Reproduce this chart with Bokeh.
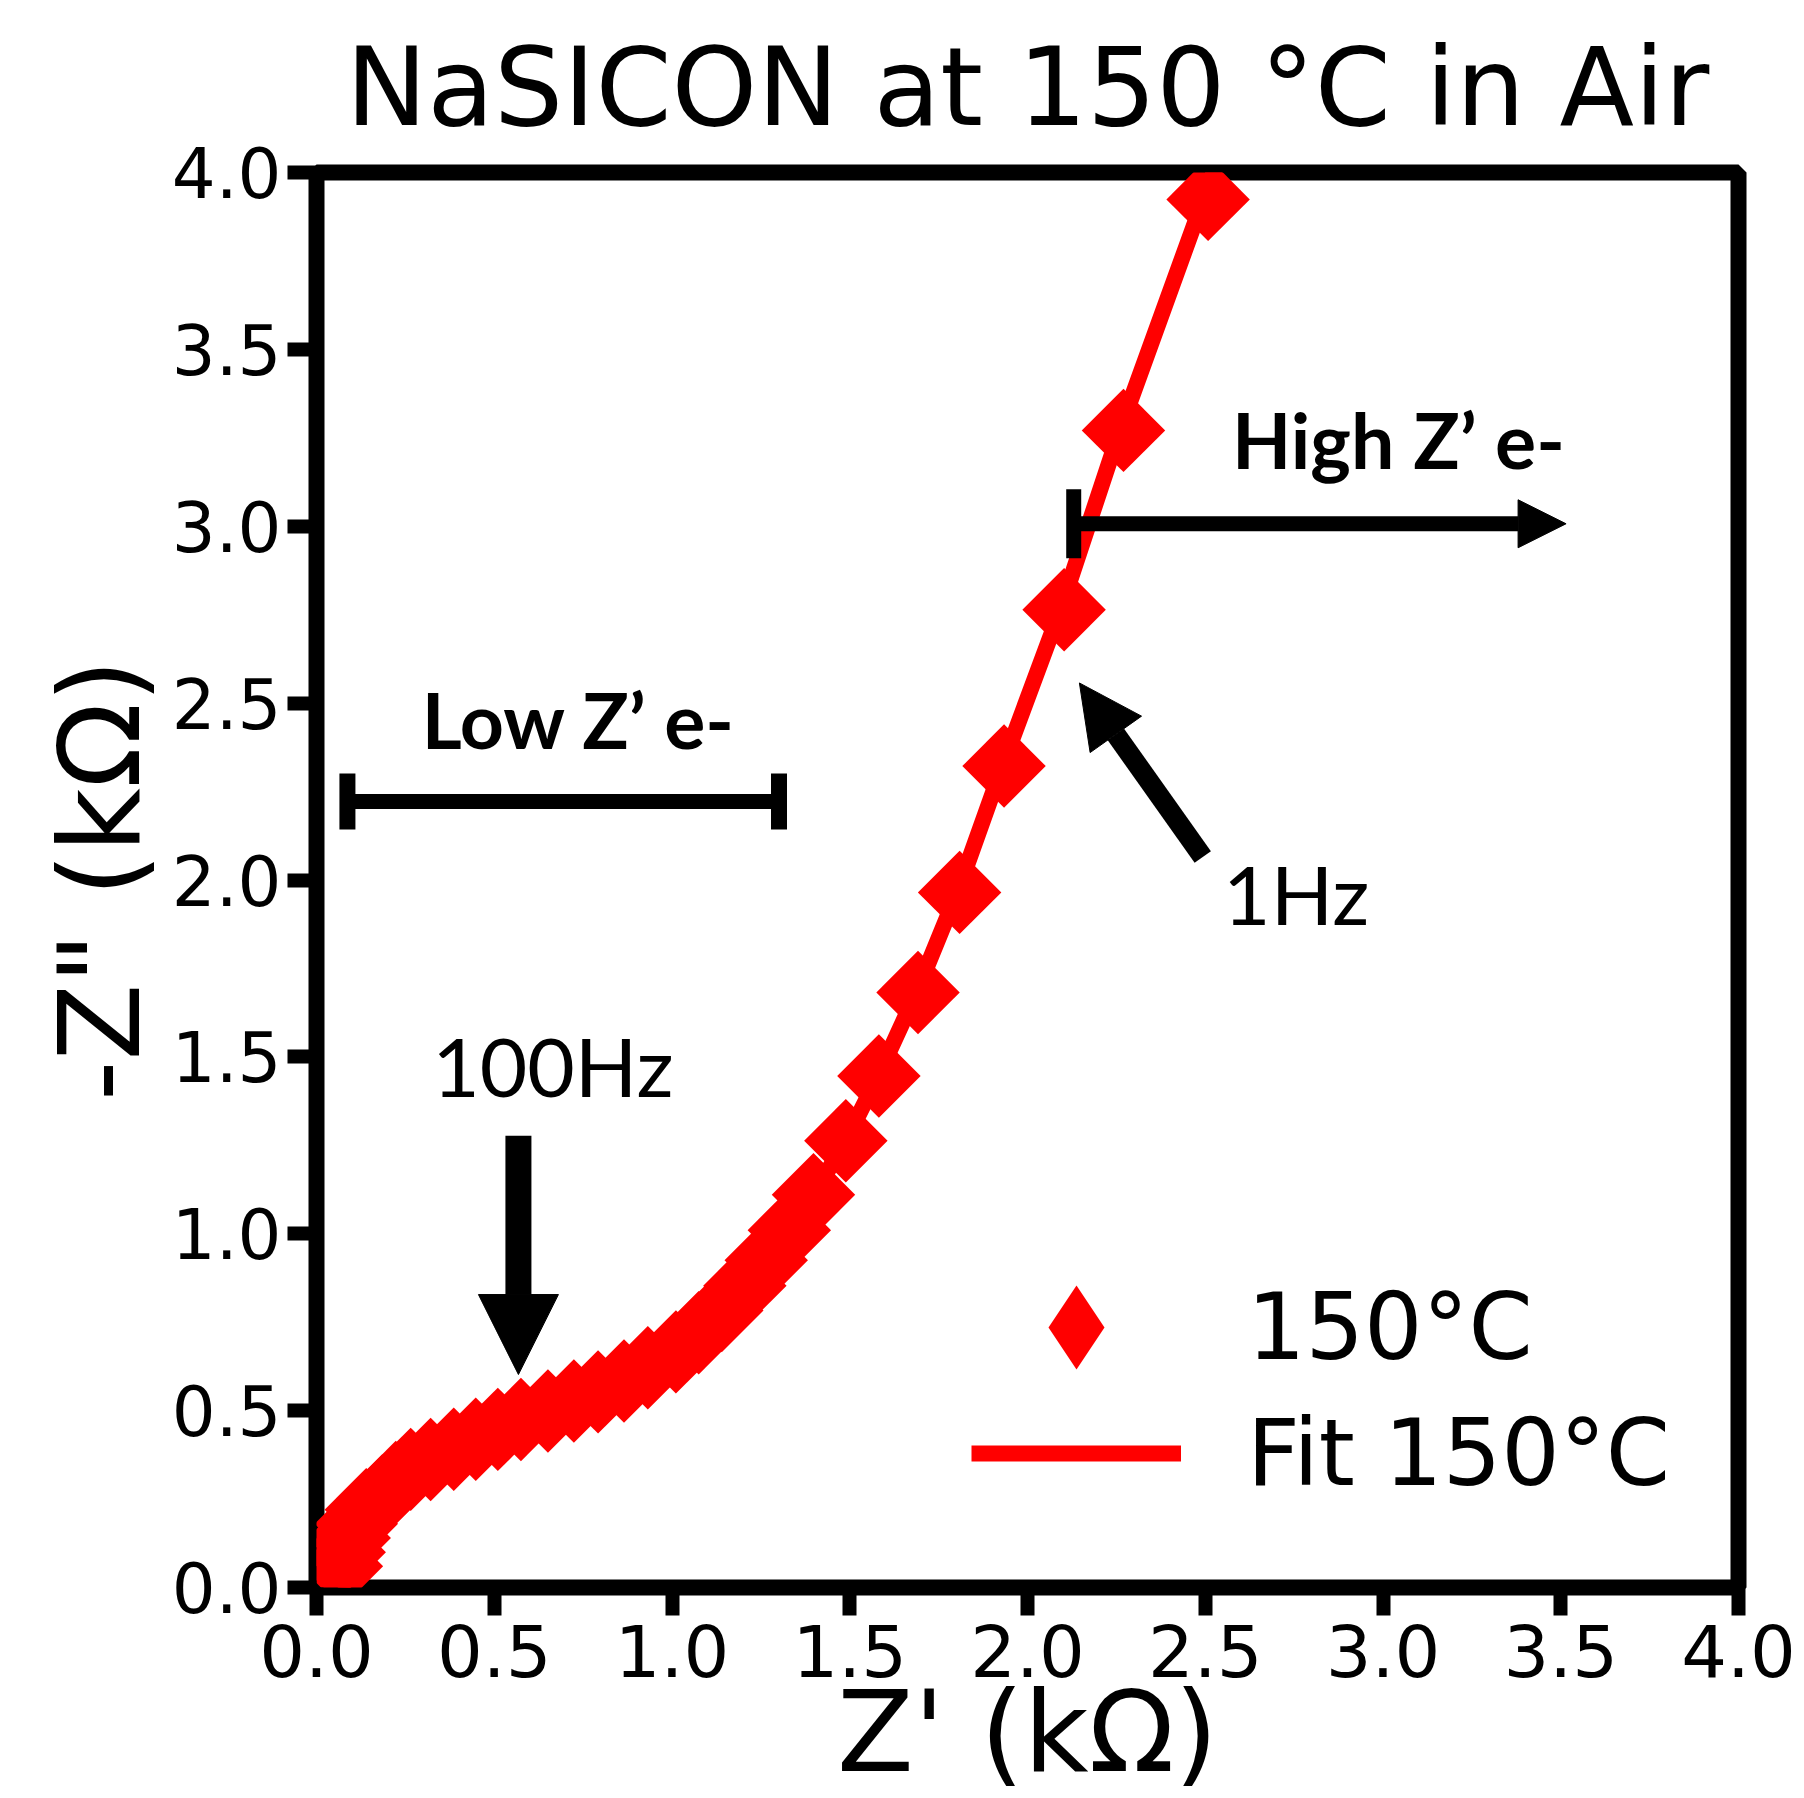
import math
import numpy as np
from bokeh.plotting import figure
from bokeh.models import (Range1d, FixedTicker, Arrow, NormalHead, TeeHead, Label,
                          Legend, LegendItem, ColumnDataSource, Title)
from bokeh.embed import file_html
from bokeh.resources import INLINE

# ---------------- data ----------------
title_text = "NaSICON at 150 °C in Air"
x_label = "Z' (kΩ)"
y_label = '-Z" (kΩ)'

x_ticks = [0.0, 0.5, 1.0, 1.5, 2.0, 2.5, 3.0, 3.5, 4.0]
x_tick_labels = ["0.0", "0.5", "1.0", "1.5", "2.0", "2.5", "3.0", "3.5", "4.0"]
y_ticks = [0.0, 0.5, 1.0, 1.5, 2.0, 2.5, 3.0, 3.5, 4.0]
y_tick_labels = ["0.0", "0.5", "1.0", "1.5", "2.0", "2.5", "3.0", "3.5", "4.0"]

series_name = "150°C"
fit_name = "Fit 150°C"

# measured impedance (kOhm)
z_real = [0.070, 0.078, 0.092, 0.112, 0.140, 0.185, 0.223, 0.265, 0.321, 0.386,
          0.448, 0.510, 0.575, 0.651, 0.724, 0.792, 0.865, 0.932, 1.011, 1.075,
          1.140, 1.205, 1.265, 1.330, 1.398, 1.489, 1.582, 1.692, 1.809, 1.934,
          2.103, 2.270, 2.508]
z_imag = [0.060, 0.100, 0.140, 0.180, 0.220, 0.259, 0.297, 0.334, 0.362, 0.391,
          0.419, 0.447, 0.475, 0.499, 0.527, 0.553, 0.584, 0.621, 0.666, 0.720,
          0.783, 0.853, 0.925, 1.010, 1.110, 1.263, 1.446, 1.682, 1.965, 2.322,
          2.764, 3.271, 3.924]

# equivalent-circuit fit (kOhm)
fit_real = [0.075, 0.080, 0.090, 0.102, 0.120, 0.146, 0.185, 0.224, 0.268, 0.323,
            0.386, 0.448, 0.510, 0.576, 0.650, 0.722, 0.792, 0.863, 0.933, 1.010,
            1.074, 1.139, 1.203, 1.265, 1.331, 1.398, 1.488, 1.580, 1.688, 1.803,
            1.930, 2.094, 2.262, 2.497, 2.740]
fit_imag = [0.000, 0.055, 0.100, 0.140, 0.180, 0.220, 0.262, 0.298, 0.333, 0.362,
            0.391, 0.419, 0.447, 0.475, 0.500, 0.527, 0.554, 0.585, 0.622, 0.667,
            0.721, 0.784, 0.853, 0.926, 1.011, 1.110, 1.262, 1.446, 1.683, 1.966,
            2.324, 2.768, 3.278, 3.930, 4.570]

# annotation texts
high_text = "High Z’ e-"
low_text = "Low Z’ e-"
f100_text = "100Hz"
f1_text = "1Hz"

# ---------------- figure ----------------
RED = "#ff0000"
FONT = "DejaVu Sans"
NOTE_FONT = "Lato"
BASELINE_FIX = 0.42   # compensation for alphabetic-baseline placement (fraction of font size)

p = figure(width=1804, height=1798, x_range=Range1d(0, 4), y_range=Range1d(0, 4),
           output_backend="svg", toolbar_location=None,
           min_border_left=316, min_border_right=66, min_border_top=172,
           min_border_bottom=211)

p.background_fill_color = "white"
p.border_fill_color = "white"
p.xgrid.visible = False
p.ygrid.visible = False
p.outline_line_color = "black"
p.outline_line_width = 16

p.title.text = title_text
p.title.text_font = FONT
p.title.text_font_size = "109px"
p.title.text_font_style = "normal"
p.title.text_color = "black"
p.title.align = "center"
p.title.standoff = 43

for ax, ticks, labels, fs, tout, lst in [
        (p.xaxis[0], x_ticks, x_tick_labels, "72px", 28, 8),
        (p.yaxis[0], y_ticks, y_tick_labels, "69px", 29, 6)]:
    ax.ticker = FixedTicker(ticks=ticks)
    ax.major_label_overrides = {t: l for t, l in zip(ticks, labels)}
    ax.major_label_text_font = FONT
    ax.major_label_text_font_size = fs
    ax.major_label_text_color = "black"
    ax.major_label_standoff = lst
    ax.major_tick_in = 0
    ax.major_tick_out = tout
    ax.major_tick_line_width = 14
    ax.major_tick_line_color = "black"
    ax.minor_tick_line_color = None
    ax.axis_line_color = None
    ax.axis_label_text_font = FONT
    ax.axis_label_text_font_size = "112px"
    ax.axis_label_text_font_style = "normal"
    ax.axis_label_text_color = "black"

p.yaxis.axis_label = y_label
p.yaxis.axis_label_standoff = 4

# x-axis title: a centred title panel under the x axis
p.add_layout(Title(text=x_label, align="center", vertical_align="bottom",
                   standoff=-30, text_font=FONT, text_font_size="112px",
                   text_font_style="normal", text_color="black"), "below")

src = ColumnDataSource(dict(x=z_real, y=z_imag))
fit_src = ColumnDataSource(dict(x=fit_real, y=fit_imag))

p.scatter("x", "y", source=src, marker="square", size=59, angle=math.pi / 4,
          fill_color=RED, line_color=None)
fit_r = p.line("x", "y", source=fit_src, line_color=RED, line_width=16,
               line_join="round")

# legend swatch for the measured points (diamond); its lone point is NaN so it
# never appears in the plot area itself
swatch_src = ColumnDataSource(dict(x=np.array([np.nan]), y=np.array([np.nan])))
leg_r = p.scatter("x", "y", source=swatch_src, marker="diamond", size=84,
                  fill_color=RED, line_color=None)

common = dict(padding=0, margin=0, label_standoff=66, label_text_font=FONT,
              label_text_font_size="92px", label_text_color="black",
              border_line_color=None, background_fill_alpha=0, glyph_width=210)
legend1 = Legend(items=[LegendItem(label=series_name, renderers=[leg_r])],
                 location=(655, 155), glyph_height=210, **common)
legend2 = Legend(items=[LegendItem(label=fit_name, renderers=[fit_r])],
                 location=(655, 79), glyph_height=110, **common)
p.add_layout(legend1)
p.add_layout(legend2)

# annotations
p.add_layout(Arrow(start=TeeHead(size=69, line_width=15, line_color="black"),
                   end=NormalHead(size=48, fill_color="black", line_color="black", line_width=1),
                   x_start=2.130, y_start=3.007, x_end=3.515, y_end=3.007,
                   line_width=15, line_color="black"))
p.add_layout(Arrow(start=TeeHead(size=56, line_width=16, line_color="black"),
                   end=TeeHead(size=56, line_width=16, line_color="black"),
                   x_start=0.087, y_start=2.222, x_end=1.301, y_end=2.222,
                   line_width=15, line_color="black"))
p.add_layout(Arrow(end=NormalHead(size=80, fill_color="black", line_color="black", line_width=1),
                   x_start=0.568, y_start=1.277, x_end=0.568, y_end=0.602,
                   line_width=26, line_color="black"))
p.add_layout(Arrow(end=NormalHead(size=63, fill_color="black", line_color="black", line_width=1),
                   x_start=2.493, y_start=2.065, x_end=2.146, y_end=2.557,
                   line_width=20, line_color="black"))

for tx, x, y, fs, style in [(high_text, 3.044, 3.156, 77, "bold"),
                            (low_text, 0.738, 2.366, 77, "bold"),
                            (f100_text, 0.665, 1.381, 82, "normal"),
                            (f1_text, 2.756, 1.867, 82, "normal")]:
    p.add_layout(Label(x=x, y=y, y_offset=round(BASELINE_FIX * fs), text=tx,
                       text_font=NOTE_FONT, text_font_size=f"{fs}px",
                       text_font_style=style, text_align="center",
                       text_baseline="alphabetic", text_color="black"))

open("out.html", "w").write(file_html(p, INLINE))
